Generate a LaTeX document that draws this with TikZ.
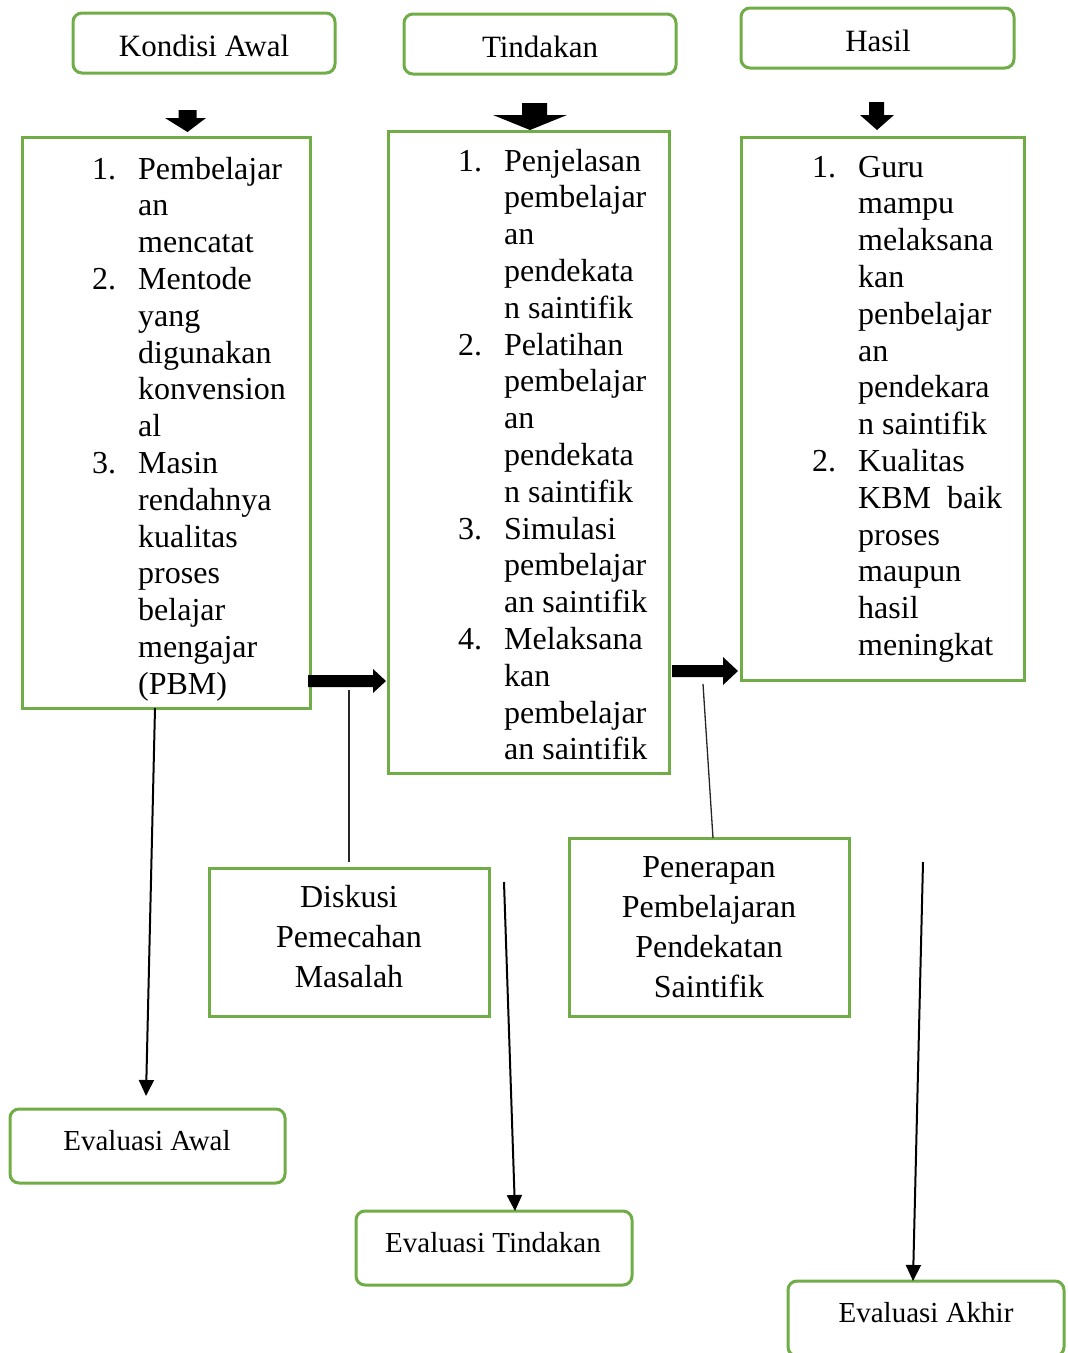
\documentclass[tikz,border=0pt]{standalone}
\usepackage{fontspec}
\setmainfont{Liberation Serif}
\usetikzlibrary{arrows.meta}
\definecolor{boxgreen}{HTML}{70AD47}
\tikzset{
  greenbox/.style={draw=boxgreen, line width=3pt, inner sep=0pt, outer sep=0pt, anchor=north west},
  roundbox/.style={greenbox, rounded corners=9pt},
  boxtext/.style={inner sep=0pt, align=center, font=\fontsize{32}{40}\selectfont},
  headtext/.style={inner sep=0pt, font=\fontsize{31}{36}\selectfont},
  evaltext/.style={inner sep=0pt, font=\fontsize{29}{34}\selectfont},
  blockarrow/.style={fill=black, draw=none},
  thinline/.style={draw=black!85, line width=1.3pt},
  arrline/.style={draw=black, line width=2pt, -{Triangle[length=16pt,width=15pt]}},
  listtext/.style={anchor=base west, inner sep=0pt, font=\fontsize{32}{36.8}\selectfont}
}
\begin{document}
\begin{tikzpicture}[x=1pt,y=-1pt]
\useasboundingbox (0,0) rectangle (1068,1353);
% header boxes
\node[roundbox, minimum width=262pt, minimum height=60pt] (hk) at (73,13) {};
\node[roundbox, minimum width=272pt, minimum height=60pt] (ht) at (404,14) {};
\node[roundbox, minimum width=273pt, minimum height=60pt] (hh) at (741,8) {};
\node[headtext] (hkt) at (204,46) {Kondisi Awal};
\node[headtext] (htt) at (540,47) {Tindakan};
\node[headtext] (hht) at (878,41) {Hasil};
% block arrows down
\fill[blockarrow] (178.5,110) -- (196.5,110) -- (196.5,118) -- (206,118) -- (187.5,132) -- (165,118) -- (178.5,118) -- cycle;
\fill[blockarrow] (522,103) -- (547,103) -- (547,115) -- (567,115) -- (530,130) -- (493,115) -- (522,115) -- cycle;
\fill[blockarrow] (869,102) -- (884,102) -- (884,115) -- (894,115) -- (877,130) -- (860,115) -- (869,115) -- cycle;
% main boxes
\node[greenbox, minimum width=288pt, minimum height=571pt] (b1) at (22,137) {};
\node[greenbox, minimum width=281pt, minimum height=642pt] (b2) at (388,131) {};
\node[greenbox, minimum width=283pt, minimum height=543pt] (b3) at (741,137) {};
% list texts
\node[listtext] (t1) at (92,179) {\begin{tabular}[t]{@{}p{46pt}@{}l@{}}
1. & Pembelajar\\
 & an\\
 & mencatat\\
2. & Mentode\\
 & yang\\
 & digunakan\\
 & konvension\\
 & al\\
3. & Masin\\
 & rendahnya\\
 & kualitas\\
 & proses\\
 & belajar\\
 & mengajar\\
 & (PBM)
\end{tabular}};
\node[listtext] (t2) at (458,171) {\begin{tabular}[t]{@{}p{46pt}@{}l@{}}
1. & Penjelasan\\
 & pembelajar\\
 & an\\
 & pendekata\\
 & n saintifik\\
2. & Pelatihan\\
 & pembelajar\\
 & an\\
 & pendekata\\
 & n saintifik\\
3. & Simulasi\\
 & pembelajar\\
 & an saintifik\\
4. & Melaksana\\
 & kan\\
 & pembelajar\\
 & an saintifik
\end{tabular}};
\node[listtext] (t3) at (812,177) {\begin{tabular}[t]{@{}p{46pt}@{}l@{}}
1. & Guru\\
 & mampu\\
 & melaksana\\
 & kan\\
 & penbelajar\\
 & an\\
 & pendekara\\
 & n saintifik\\
2. & Kualitas\\
 & \hbox to 144pt{KBM\hfill baik}\\
 & proses\\
 & maupun\\
 & hasil\\
 & meningkat
\end{tabular}};
% right block arrows
\fill[blockarrow] (308,675) -- (373,675) -- (373,669) -- (386,681) -- (373,693) -- (373,687) -- (308,687) -- cycle;
\fill[blockarrow] (672,665) -- (723,665) -- (723,657) -- (738,671) -- (723,685) -- (723,677) -- (672,677) -- cycle;
% middle boxes
\node[greenbox, minimum width=280pt, minimum height=148pt] (dk) at (209,868) {};
\node[greenbox, minimum width=280pt, minimum height=178pt] (pn) at (569,838) {};
\node[boxtext] (dkt) at (349,937) {Diskusi\\Pemecahan\\Masalah};
\node[boxtext] (pnt) at (709,927) {Penerapan\\Pembelajaran\\Pendekatan\\Saintifik};
% evaluation boxes
\node[roundbox, minimum width=275pt, minimum height=74pt] (ea) at (10,1109) {};
\node[roundbox, minimum width=276pt, minimum height=74pt] (et) at (356,1211) {};
\node[roundbox, minimum width=276pt, minimum height=75pt] (ek) at (788,1281) {};
\node[evaltext] (eat) at (147,1141) {Evaluasi Awal};
\node[evaltext] (ett) at (493,1243) {Evaluasi Tindakan};
\node[evaltext] (ekt) at (926,1313) {Evaluasi Akhir};
% connector coordinates
\coordinate (c1s) at (155,708);
\coordinate (c1e) at (146,1096);
\coordinate (c2s) at (349,690);
\coordinate (c2e) at (349,862);
\coordinate (c3s) at (504,882);
\coordinate (c3e) at (515,1211);
\coordinate (c4s) at (703,684);
\coordinate (c4e) at (713,838);
\coordinate (c5s) at (923,862);
\coordinate (c5e) at (913,1281);
% connectors
\draw[arrline] (c1s) -- (c1e);
\draw[thinline] (c2s) -- (c2e);
\draw[arrline] (c3s) -- (c3e);
\draw[thinline] (c4s) -- (c4e);
\draw[arrline] (c5s) -- (c5e);
\end{tikzpicture}
\end{document}
